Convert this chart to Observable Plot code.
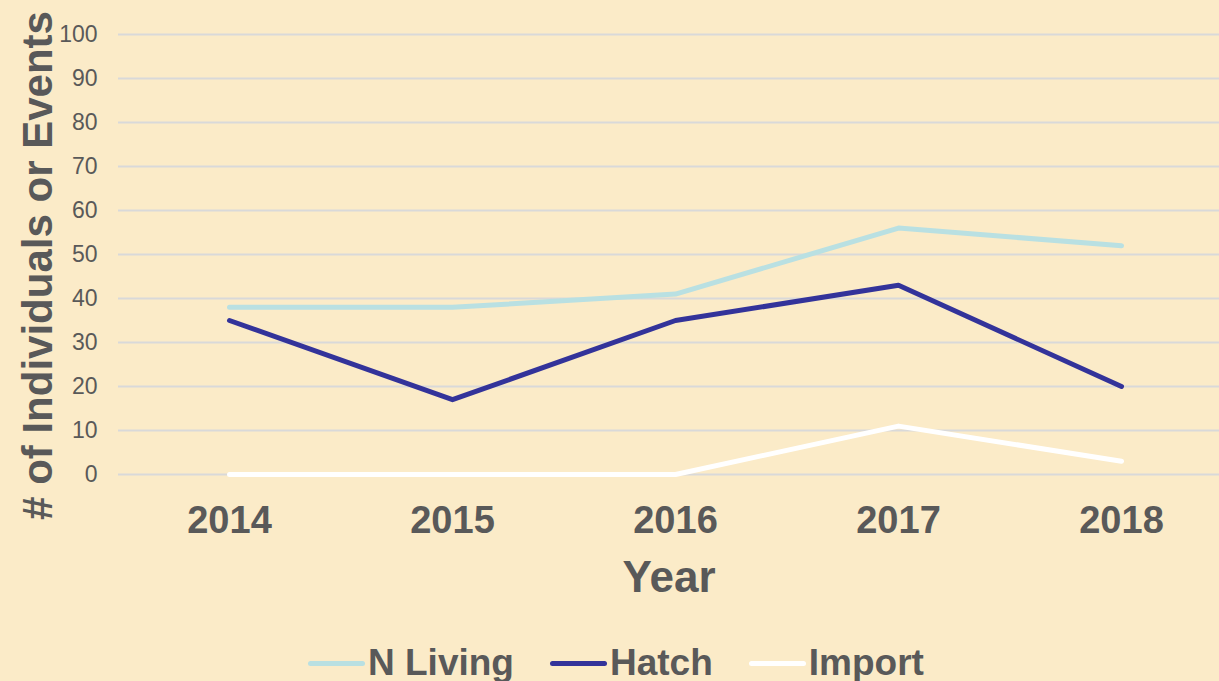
<!DOCTYPE html>
<html>
<head>
<meta charset="utf-8">
<script src="https://cdn.jsdelivr.net/npm/d3@7"></script>
<script src="https://cdn.jsdelivr.net/npm/@observablehq/plot@0.6"></script>
<style>
  html, body { margin: 0; padding: 0; background: #FBEBC8; width: 1219px; height: 681px; overflow: hidden; }
  #wrap { position: relative; width: 1219px; height: 681px; font-family: "Liberation Sans", Arial, sans-serif; }
  #legend { position: absolute; left: 308px; top: 642px; display: flex; align-items: center; gap: 36px; font-weight: bold; font-size: 37px; color: #595959; white-space: nowrap; }
  .item { display: flex; align-items: center; gap: 3px; }
  .sw { display: inline-block; width: 57px; height: 5px; border-radius: 3px; }
</style>
</head>
<body>
<div id="wrap"><div id="chart"></div><div id="legend"></div></div>
<script>
const years = ["2014", "2015", "2016", "2017", "2018"];
const seriesNames = ["N Living", "Hatch", "Import"];
const nLiving = [38, 38, 41, 56, 52];
const hatch = [35, 17, 35, 43, 20];
const importVals = [0, 0, 0, 11, 3];
const colors = ["#B9E0E2", "#33339A", "#FFFFFF"];
const yTicks = [0, 10, 20, 30, 40, 50, 60, 70, 80, 90, 100];

const seriesValues = [nLiving, hatch, importVals];
const data = seriesNames.flatMap((s, i) => years.map((y, j) => ({series: s, year: y, value: seriesValues[i][j]})));

const textColor = "#595959";
const plot = Plot.plot({
  width: 1219,
  height: 630,
  marginTop: 34,
  marginBottom: 156,
  marginLeft: 118,
  marginRight: 0,
  style: {background: "transparent", fontFamily: "Liberation Sans, Arial, sans-serif", color: textColor, overflow: "visible"},
  x: {type: "point", domain: years, range: [229, 1121], padding: 0},
  y: {domain: [0, 100]},
  color: {domain: seriesNames, range: colors},
  marks: [
    Plot.ruleY(yTicks, {stroke: "#D9D9D9", strokeWidth: 2}),
    Plot.axisY({ticks: yTicks, tickSize: 0, tickPadding: 21, fontSize: 23, label: null, fill: textColor}),
    Plot.axisX({tickSize: 0, tickPadding: 32, fontSize: 38, fontWeight: "bold", label: null, fill: textColor}),
    Plot.lineY(data, {x: "year", y: "value", z: "series", stroke: "series", strokeWidth: 5, strokeLinecap: "round", strokeLinejoin: "round"}),
    Plot.text(["Year"], {frameAnchor: "bottom", lineAnchor: "middle", dy: 103, fontSize: 44, fontWeight: "bold", fill: textColor}),
    Plot.text(["# of Individuals or Events"], {frameAnchor: "left", textAnchor: "middle", dx: -80, dy: 11, rotate: -90, fontSize: 42, fontWeight: "bold", fill: textColor})
  ]
});
document.getElementById("chart").appendChild(plot);

const legend = document.getElementById("legend");
seriesNames.forEach((s, i) => {
  const item = document.createElement("div");
  item.className = "item";
  const sw = document.createElement("span");
  sw.className = "sw";
  sw.style.background = colors[i];
  const t = document.createElement("span");
  t.textContent = s;
  item.appendChild(sw);
  item.appendChild(t);
  legend.appendChild(item);
});
</script>
</body>
</html>
